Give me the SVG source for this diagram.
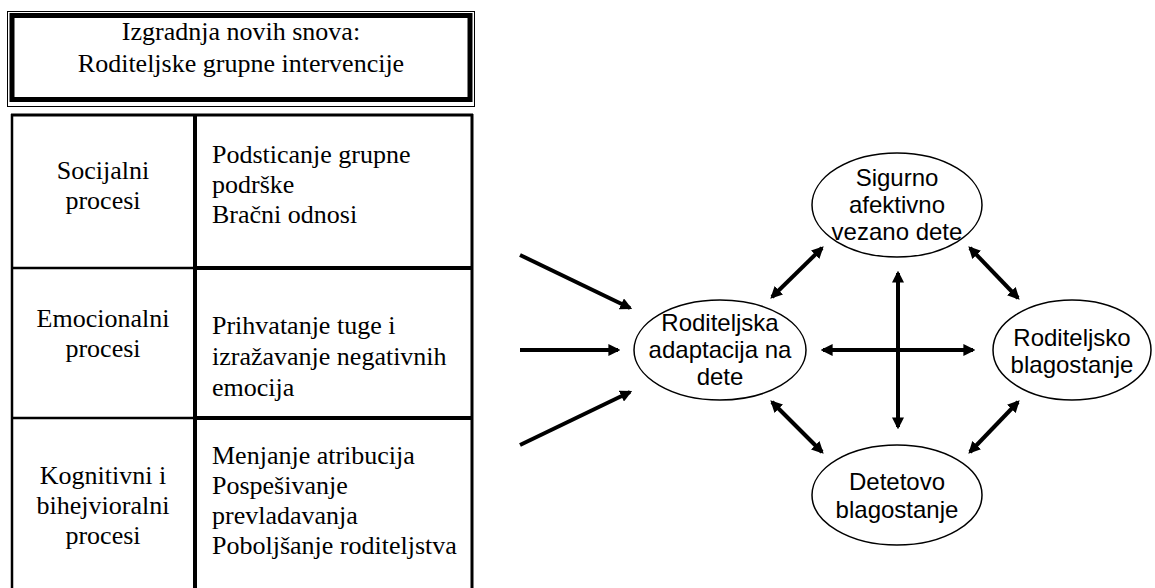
<svg xmlns="http://www.w3.org/2000/svg" width="1155" height="588" viewBox="0 0 1155 588">
<defs>
<marker id="ah" viewBox="0 0 10 10" refX="8" refY="5" markerWidth="3" markerHeight="3" orient="auto-start-reverse" markerUnits="strokeWidth">
<path d="M0,0 L10,5 L0,10 z" fill="#000"/>
</marker>
<style>
.t{font-family:"Liberation Serif","Times New Roman",serif;font-size:26px;fill:#000}
.s{font-family:"Liberation Sans",Arial,sans-serif;font-size:24px;fill:#000}
.e{fill:#fff;stroke:#000;stroke-width:1.5}
.a{stroke:#000;stroke-width:4;fill:none}
.ln{stroke:#000;fill:none}
</style>
</defs>
<rect width="1155" height="588" fill="#fff"/>
<g id="title">
<rect class="ln" x="7.5" y="11.5" width="467" height="95" stroke-width="1"/>
<rect class="ln" x="12" y="15.5" width="458" height="84" stroke-width="5"/>
<text class="t" x="241" y="40" text-anchor="middle">Izgradnja novih snova:</text>
<text class="t" x="241" y="72" text-anchor="middle">Roditeljske grupne intervencije</text>
</g>
<g id="table">
<line class="ln" x1="11" y1="115" x2="473" y2="115" stroke-width="3"/>
<line class="ln" x1="12" y1="114" x2="12" y2="588" stroke-width="2.5"/>
<line class="ln" x1="195" y1="114" x2="195" y2="588" stroke-width="4"/>
<line class="ln" x1="472" y1="114" x2="472" y2="588" stroke-width="3"/>
<line class="ln" x1="12" y1="268" x2="195" y2="268" stroke-width="2.5"/>
<line class="ln" x1="195" y1="268" x2="472" y2="268" stroke-width="4"/>
<line class="ln" x1="12" y1="418" x2="195" y2="418" stroke-width="2.5"/>
<line class="ln" x1="195" y1="418" x2="472" y2="418" stroke-width="4"/>
</g>
<g id="row1">
<text class="t" x="103" y="179" text-anchor="middle">Socijalni</text>
<text class="t" x="103" y="209" text-anchor="middle">procesi</text>
<text class="t" x="212" y="163">Podsticanje grupne</text>
<text class="t" x="212" y="193">podrške</text>
<text class="t" x="212" y="223">Bračni odnosi</text>
</g>
<g id="row2">
<text class="t" x="103" y="327" text-anchor="middle">Emocionalni</text>
<text class="t" x="103" y="357" text-anchor="middle">procesi</text>
<text class="t" x="212" y="334">Prihvatanje tuge i</text>
<text class="t" x="212" y="365">izražavanje negativnih</text>
<text class="t" x="212" y="396">emocija</text>
</g>
<g id="row3">
<text class="t" x="103" y="484" text-anchor="middle">Kognitivni i</text>
<text class="t" x="103" y="514" text-anchor="middle">bihejvioralni</text>
<text class="t" x="103" y="544" text-anchor="middle">procesi</text>
<text class="t" x="212" y="464">Menjanje atribucija</text>
<text class="t" x="212" y="494">Pospešivanje</text>
<text class="t" x="212" y="524">prevladavanja</text>
<text class="t" x="212" y="554">Poboljšanje roditeljstva</text>
</g>
<g id="connectors">
<line class="a" x1="520" y1="255" x2="630" y2="308" marker-end="url(#ah)"/>
<line class="a" x1="520" y1="350" x2="618" y2="350" marker-end="url(#ah)"/>
<line class="a" x1="520" y1="445" x2="630" y2="392" marker-end="url(#ah)"/>
<line class="a" x1="772" y1="297" x2="822" y2="248" marker-start="url(#ah)" marker-end="url(#ah)"/>
<line class="a" x1="970" y1="248" x2="1018" y2="298" marker-start="url(#ah)" marker-end="url(#ah)"/>
<line class="a" x1="772" y1="402" x2="822" y2="452" marker-start="url(#ah)" marker-end="url(#ah)"/>
<line class="a" x1="970" y1="452" x2="1018" y2="402" marker-start="url(#ah)" marker-end="url(#ah)"/>
<line class="a" x1="823" y1="350" x2="973" y2="350" marker-start="url(#ah)" marker-end="url(#ah)"/>
<line class="a" x1="898" y1="273" x2="898" y2="427" marker-start="url(#ah)" marker-end="url(#ah)"/>
</g>
<g id="adaptacija">
<ellipse class="e" cx="720" cy="350" rx="86" ry="50"/>
<text class="s" x="720" y="331" text-anchor="middle">Roditeljska</text>
<text class="s" x="720" y="358" text-anchor="middle">adaptacija na</text>
<text class="s" x="720" y="385" text-anchor="middle">dete</text>
</g>
<g id="sigurno">
<ellipse class="e" cx="897" cy="205" rx="85" ry="52"/>
<text class="s" x="897" y="186" text-anchor="middle">Sigurno</text>
<text class="s" x="897" y="213" text-anchor="middle">afektivno</text>
<text class="s" x="897" y="240" text-anchor="middle">vezano dete</text>
</g>
<g id="roditeljsko">
<ellipse class="e" cx="1072" cy="350" rx="79" ry="50"/>
<text class="s" x="1072" y="346" text-anchor="middle">Roditeljsko</text>
<text class="s" x="1072" y="373" text-anchor="middle">blagostanje</text>
</g>
<g id="detetovo">
<ellipse class="e" cx="897" cy="495" rx="85" ry="50"/>
<text class="s" x="897" y="490" text-anchor="middle">Detetovo</text>
<text class="s" x="897" y="518" text-anchor="middle">blagostanje</text>
</g>
</svg>
